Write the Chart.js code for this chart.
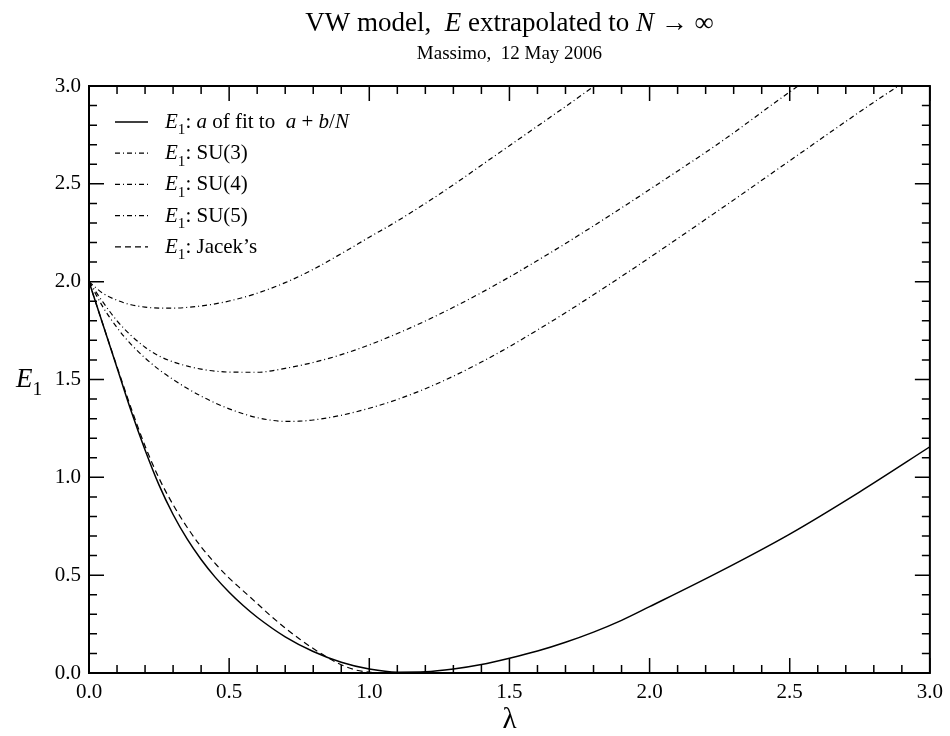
<!DOCTYPE html>
<html>
<head>
<meta charset="utf-8">
<title>VW model</title>
<script src="https://cdn.jsdelivr.net/npm/chart.js@4.4.0/dist/chart.umd.min.js"></script>
<style>
    html, body { margin: 0; padding: 0; background: #fff; }
</style>
</head>
<body>
<canvas id="grafico" width="950" height="736"></canvas>
<script>
// E_1: a do ajuste a + b/N
const lambdaFit = [0, 0.05, 0.1, 0.15, 0.2, 0.25, 0.3, 0.35, 0.4, 0.45, 0.5, 0.55, 0.6, 0.7, 0.8, 0.9, 1.0, 1.1, 1.2, 1.3, 1.4, 1.5, 1.6, 1.7, 1.8, 1.9, 2.0, 2.25, 2.5, 2.75, 3.0];
const energiaFit = [2.0, 1.78, 1.56, 1.34, 1.14, 0.96, 0.81, 0.685, 0.58, 0.49, 0.413, 0.345, 0.285, 0.185, 0.11, 0.055, 0.02, 0.004, 0.006, 0.02, 0.043, 0.075, 0.112, 0.157, 0.209, 0.269, 0.339, 0.518, 0.71, 0.926, 1.156];

// SU(3), SU(4), SU(5)
const lambdaSU3 = [0, 0.05, 0.1, 0.15, 0.2, 0.25, 0.3, 0.4, 0.5, 0.6, 0.7, 0.8, 0.9, 1.0, 1.1, 1.2, 1.3, 1.4, 1.5, 1.6, 1.7, 1.8, 1.9];
const energiaSU3 = [2.0, 1.94, 1.905, 1.882, 1.87, 1.865, 1.865, 1.876, 1.901, 1.941, 1.995, 2.063, 2.143, 2.227, 2.31, 2.40, 2.495, 2.595, 2.695, 2.795, 2.895, 2.997, 3.1];

const lambdaSU4 = [0, 0.05, 0.1, 0.15, 0.2, 0.25, 0.3, 0.4, 0.5, 0.6, 0.7, 0.8, 0.9, 1.0, 1.1, 1.2, 1.3, 1.4, 1.5, 1.6, 1.7, 1.8, 1.9, 2.0, 2.25, 2.5, 2.6];
const energiaSU4 = [2.0, 1.895, 1.80, 1.725, 1.665, 1.62, 1.59, 1.553, 1.538, 1.537, 1.557, 1.587, 1.627, 1.677, 1.735, 1.799, 1.869, 1.944, 2.024, 2.108, 2.195, 2.285, 2.377, 2.471, 2.71, 2.97, 3.07];

const lambdaSU5 = [0, 0.05, 0.1, 0.15, 0.2, 0.25, 0.3, 0.35, 0.4, 0.45, 0.5, 0.55, 0.6, 0.65, 0.7, 0.75, 0.8, 0.9, 1.0, 1.1, 1.2, 1.3, 1.4, 1.5, 1.6, 1.7, 1.8, 1.9, 2.0, 2.25, 2.5, 2.75, 3.0];
const energiaSU5 = [2.0, 1.87, 1.765, 1.68, 1.61, 1.55, 1.50, 1.455, 1.415, 1.38, 1.35, 1.325, 1.305, 1.292, 1.286, 1.287, 1.293, 1.317, 1.353, 1.398, 1.453, 1.517, 1.589, 1.668, 1.753, 1.841, 1.933, 2.027, 2.123, 2.368, 2.618, 2.868, 3.108];

// Jacek's
const lambdaJacek = [0, 0.05, 0.1, 0.15, 0.2, 0.25, 0.3, 0.35, 0.4, 0.45, 0.5, 0.55, 0.6, 0.65, 0.7, 0.75, 0.8, 0.85, 0.9, 0.95, 1.0, 1.05, 1.1];
const energiaJacek = [2.0, 1.78, 1.565, 1.355, 1.16, 0.995, 0.86, 0.745, 0.645, 0.56, 0.485, 0.42, 0.355, 0.29, 0.23, 0.175, 0.125, 0.08, 0.042, 0.016, 0.004, 0, 0];

const ticksEixo = [0, 0.5, 1.0, 1.5, 2.0, 2.5, 3.0];

const FONTE = '"Liberation Serif", "Times New Roman", serif';
const tracoPonto = [5, 3, 1, 3];

function pontos(xs, ys) {
    return xs.map((x, i) => ({ x: x, y: ys[i] }));
}

function serie(rotulo, xs, ys, tracejado, largura) {
    return {
        label: rotulo,
        data: pontos(xs, ys),
        borderColor: '#000',
        borderWidth: largura,
        borderDash: tracejado,
        pointRadius: 0,
        fill: false,
        cubicInterpolationMode: 'monotone'
    };
}

// escreve texto com partes em italico e subscrito
function escrever(ctx, partes, x, y, tam, alinhar) {
    let total = 0;
    const medidas = partes.map(p => {
        const t = p[1] === 's' ? tam * 0.72 : tam;
        ctx.font = (p[1] === 'i' ? 'italic ' : '') + t + 'px ' + FONTE;
        const w = ctx.measureText(p[0]).width;
        total += w;
        return { t: t, w: w };
    });
    let cx = alinhar === 'center' ? x - total / 2 : x;
    partes.forEach((p, i) => {
        ctx.font = (p[1] === 'i' ? 'italic ' : '') + medidas[i].t + 'px ' + FONTE;
        ctx.fillText(p[0], cx, p[1] === 's' ? y + tam * 0.3 : y);
        cx += medidas[i].w;
    });
}

const molduraPlugin = {
    id: 'moldura',
    afterDatasetsDraw(chart) {
        const ctx = chart.ctx;
        const a = chart.chartArea;
        const sx = chart.scales.x;
        const sy = chart.scales.y;
        ctx.save();
        ctx.strokeStyle = '#000';
        ctx.lineWidth = 1.5;
        ctx.setLineDash([]);
        ctx.beginPath();
        for (let i = 0; i <= 30; i++) {
            const len = i % 5 === 0 ? 15 : 8;
            const px = sx.getPixelForValue(i / 10);
            ctx.moveTo(px, a.bottom); ctx.lineTo(px, a.bottom - len);
            ctx.moveTo(px, a.top); ctx.lineTo(px, a.top + len);
            const py = sy.getPixelForValue(i / 10);
            ctx.moveTo(a.left, py); ctx.lineTo(a.left + len, py);
            ctx.moveTo(a.right, py); ctx.lineTo(a.right - len, py);
        }
        ctx.stroke();
        ctx.lineWidth = 2;
        ctx.strokeRect(a.left, a.top, a.right - a.left, a.bottom - a.top);
        ctx.restore();
    },
    afterDraw(chart) {
        const ctx = chart.ctx;
        const a = chart.chartArea;
        const meio = (a.left + a.right) / 2;
        ctx.save();
        ctx.fillStyle = '#000';
        ctx.textBaseline = 'alphabetic';

        // titulos
        escrever(ctx, [['VW model,  ', ''], ['E', 'i'], [' extrapolated to ', ''], ['N', 'i'], [' \u2192 \u221e', '']], meio, 31, 27, 'center');
        escrever(ctx, [['Massimo,  12 May 2006', '']], meio, 59, 19, 'center');

        // eixos
        escrever(ctx, [['\u03bb', '']], meio, 728, 29, 'center');
        escrever(ctx, [['E', 'i'], ['1', 's']], 16, 387, 27, 'left');

        // legenda
        const itens = [
            { dash: [], largura: 1.5, partes: [['E', 'i'], ['1', 's'], [': ', ''], ['a', 'i'], [' of fit to  ', ''], ['a', 'i'], [' + ', ''], ['b', 'i'], ['/', ''], ['N', 'i']] },
            { dash: tracoPonto, largura: 1.2, partes: [['E', 'i'], ['1', 's'], [': SU(3)', '']] },
            { dash: tracoPonto, largura: 1.2, partes: [['E', 'i'], ['1', 's'], [': SU(4)', '']] },
            { dash: tracoPonto, largura: 1.2, partes: [['E', 'i'], ['1', 's'], [': SU(5)', '']] },
            { dash: [6, 4], largura: 1.2, partes: [['E', 'i'], ['1', 's'], [': Jacek\u2019s', '']] }
        ];
        itens.forEach((item, i) => {
            const y = 122 + i * 31.2;
            ctx.strokeStyle = '#000';
            ctx.lineWidth = item.largura;
            ctx.setLineDash(item.dash);
            ctx.beginPath();
            ctx.moveTo(115, y);
            ctx.lineTo(148, y);
            ctx.stroke();
            escrever(ctx, item.partes, 165, y + 6, 21, 'left');
        });
        ctx.restore();
    }
};

const ctx = document.getElementById('grafico').getContext('2d');
const grafico = new Chart(ctx, {
    type: 'line',
    data: {
        datasets: [
            serie('E1: a of fit to a + b/N', lambdaFit, energiaFit, [], 1.5),
            serie('E1: SU(3)', lambdaSU3, energiaSU3, tracoPonto, 1.2),
            serie('E1: SU(4)', lambdaSU4, energiaSU4, tracoPonto, 1.2),
            serie('E1: SU(5)', lambdaSU5, energiaSU5, tracoPonto, 1.2),
            serie("E1: Jacek's", lambdaJacek, energiaJacek, [6, 4], 1.2)
        ]
    },
    options: {
        responsive: false,
        animation: false,
        layout: { padding: { top: 86, right: 20, left: 0, bottom: 0 } },
        plugins: {
            legend: { display: false },
            tooltip: { enabled: false }
        },
        scales: {
            x: {
                type: 'linear',
                min: 0,
                max: 3,
                afterBuildTicks(s) { s.ticks = ticksEixo.map(v => ({ value: v })); },
                ticks: {
                    callback: v => v.toFixed(1),
                    color: '#000',
                    font: { family: FONTE, size: 21 },
                    padding: 7,
                    maxRotation: 0
                },
                grid: { display: false, drawTicks: false },
                border: { display: false },
                afterFit(s) { s.height = 63; }
            },
            y: {
                type: 'linear',
                min: 0,
                max: 3,
                afterBuildTicks(s) { s.ticks = ticksEixo.map(v => ({ value: v })); },
                ticks: {
                    callback: v => v.toFixed(1),
                    color: '#000',
                    font: { family: FONTE, size: 21 },
                    padding: 8
                },
                grid: { display: false, drawTicks: false },
                border: { display: false },
                afterFit(s) { s.width = 89; }
            }
        }
    },
    plugins: [molduraPlugin]
});
</script>
</body>
</html>
